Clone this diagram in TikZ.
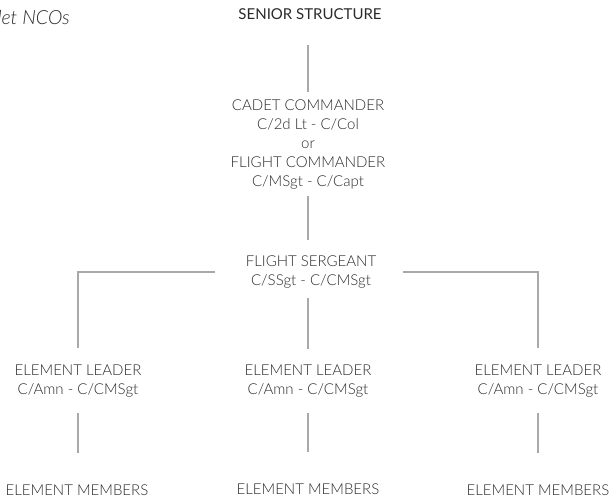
\documentclass[tikz,border=0pt]{standalone}
\usepackage{fontspec}
\IfFontExistsTF{Lato Light}{\setmainfont{Lato Light}}{\setmainfont{Lato}}
\newfontfamily\headfont{Lato}
\definecolor{txt}{HTML}{2A2A2A}
\definecolor{linec}{HTML}{A9A9AC}
\begin{document}
\begin{tikzpicture}[x=1pt,y=-1pt,
  lbl/.style={align=center,inner sep=0pt,text=txt,font=\fontsize{15}{19}\selectfont},
  conn/.style={draw=linec,line width=2pt}]
\useasboundingbox (0,0) rectangle (615,498);
\clip (0,0) rectangle (615,498);
\node[lbl,anchor=east,font={\fontsize{19.5}{19}\selectfont\itshape}] (note) at (70,17) {Cadet NCOs};
\node[lbl,font={\headfont\fontsize{15}{19}\selectfont}] (senior) at (310,14) {SENIOR STRUCTURE};
\node[lbl] (cadet) at (308,145) {CADET COMMANDER\\C/2d Lt - C/Col\\or\\FLIGHT COMMANDER\\C/MSgt - C/Capt};
\node[lbl] (fsgt) at (311,272) {FLIGHT SERGEANT\\C/SSgt - C/CMSgt};
\node[lbl] (el1) at (78,381) {ELEMENT LEADER\\C/Amn - C/CMSgt};
\node[lbl] (el2) at (308,381) {ELEMENT LEADER\\C/Amn - C/CMSgt};
\node[lbl] (el3) at (538,381) {ELEMENT LEADER\\C/Amn - C/CMSgt};
\node[lbl] (em1) at (77,490) {ELEMENT MEMBERS};
\node[lbl] (em2) at (308,489) {ELEMENT MEMBERS};
\node[lbl] (em3) at (538,490) {ELEMENT MEMBERS};
\draw[conn,shorten <=31pt,shorten >=53pt] (cadet.center |- senior.center) -- (cadet.center);
\draw[conn,shorten <=51pt,shorten >=32pt] (cadet.center) -- (cadet.center |- fsgt.center);
\draw[conn,shorten <=26pt,shorten >=32pt] (el2.center |- fsgt.center) -- (el2.center);
\draw[conn,shorten <=96pt,shorten >=33pt] (fsgt.center) -| (el1.center);
\draw[conn,shorten <=92pt,shorten >=33pt] (fsgt.center) -| (el3.center);
\draw[conn,shorten <=32pt,shorten >=37pt] (el1.center) -- (el1.center |- em1.center);
\draw[conn,shorten <=32pt,shorten >=37pt] (el2.center) -- (el2.center |- em2.center);
\draw[conn,shorten <=32pt,shorten >=37pt] (el3.center) -- (el3.center |- em3.center);
\end{tikzpicture}
\end{document}
